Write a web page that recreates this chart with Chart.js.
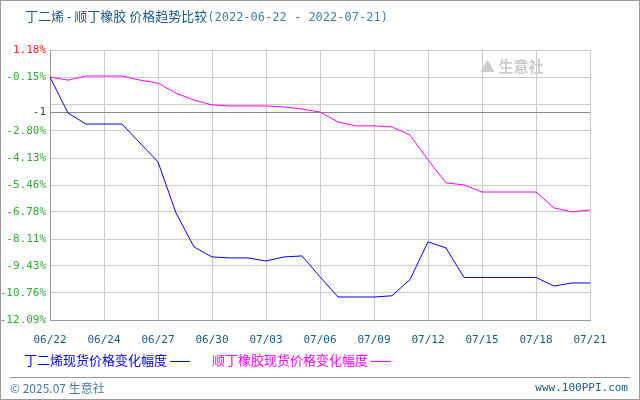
<!DOCTYPE html><html><head><meta charset="utf-8">
<script src="https://cdn.jsdelivr.net/npm/chart.js@4"></script>
<style>
body{margin:0;width:640px;height:400px;background:#fff;font-family:"Noto Sans CJK SC",sans-serif;position:relative;overflow:hidden}
#frame{position:absolute;left:0;top:0;width:638px;height:398px;border:1px solid #999}
#c{position:absolute;left:0;top:0}
.t{position:absolute;white-space:pre}
</style></head><body>
<div id="frame"></div>
<canvas id="c" width="640" height="400"></canvas>
<div class="t" style="left:25px;top:6px;font-size:13px;color:#1a5a8a">丁二烯 - 顺丁橡胶 价格趋势比较<span style="font-family:'DejaVu Sans Mono';font-size:12px;color:#4a7aa8">(2022-06-22 - 2022-07-21)</span></div>
<div class="t" style="left:480px;top:55px;font-size:15px;color:#ccc;font-weight:bold">▲ 生意社</div>
<div class="t" style="left:24px;top:350px;font-size:13px;color:#0000ff">丁二烯现货价格变化幅度 <span style="display:inline-block;width:20px;border-top:1px solid #00f;vertical-align:middle"></span></div>
<div class="t" style="left:212px;top:350px;font-size:13px;color:#ff00ff">顺丁橡胶现货价格变化幅度 <span style="display:inline-block;width:20px;border-top:1px solid #f0f;vertical-align:middle"></span></div>
<div style="position:absolute;left:10px;top:377px;width:620px;border-top:1px solid #999"></div>
<div class="t" style="left:10px;top:379px;font-size:12px;color:#4a7aa8">© 2025.07 生意社</div>
<div class="t" style="right:12px;top:381px;font-size:11px;color:#1a5a8a;font-family:'DejaVu Sans Mono'">www.100PPI.com</div>
<script>
const dates=["06/22","06/22","06/23","06/24","06/25","06/26","06/27","06/28","06/29","06/30","07/01","07/02","07/03","07/04","07/05","07/06","07/07","07/08","07/09","07/10","07/11","07/12","07/13","07/14","07/15","07/16","07/17","07/18","07/19","07/20","07/21"];
const butadiene=[-0.15,-1.92,-2.46,-2.46,-2.46,-3.39,-4.32,-6.83,-8.5,-8.99,-9.04,-9.04,-9.19,-8.99,-8.94,-9.97,-10.96,-10.96,-10.96,-10.9,-10.1,-8.25,-8.55,-10.0,-10.0,-10.0,-10.0,-10.0,-10.42,-10.27,-10.27];
const rubber=[-0.15,-0.3,-0.1,-0.1,-0.1,-0.3,-0.45,-0.94,-1.28,-1.52,-1.57,-1.57,-1.57,-1.62,-1.72,-1.87,-2.36,-2.55,-2.55,-2.6,-3.0,-4.22,-5.35,-5.45,-5.8,-5.8,-5.8,-5.8,-6.58,-6.78,-6.68];
const yTicks=[1.18,-0.15,-1.48,-1.87,-2.80,-4.13,-5.46,-6.78,-8.11,-9.43,-10.76,-12.09];
const yLabels=["1.18%","-0.15%","","-1","-2.80%","-4.13%","-5.46%","-6.78%","-8.11%","-9.43%","-10.76%","-12.09%"];
new Chart(document.getElementById('c'),{type:'line',
data:{labels:dates,datasets:[
{data:butadiene,borderColor:'#0000ff',borderWidth:1,pointRadius:0,tension:0},
{data:rubber,borderColor:'#ff00ff',borderWidth:1,pointRadius:0,tension:0}]},
options:{responsive:false,animation:false,events:[],
layout:{padding:{left:0,right:50,top:50,bottom:0}},
plugins:{legend:{display:false},tooltip:{enabled:false}},
scales:{
x:{offset:false,grid:{color:'#ccc',borderDash:[3,3],drawTicks:false},border:{color:'#999'},
 afterFit(s){s.height=80;},
 ticks:{autoSkip:false,maxRotation:0,padding:14,color:'#1a5a8a',font:{family:'DejaVu Sans Mono',size:11},
 callback:(v,i)=>i%3===0?dates[i]:null}},
y:{min:-12.09,max:1.18,afterFit(s){s.width=50;},
 afterBuildTicks(s){s.ticks=yTicks.map(v=>({value:v}));},
 border:{color:'#999'},
 grid:{drawTicks:false,color:c=>c.index===3?'#888':'#ccc',borderDash:c=>c.index===3?[]:[3,3],lineWidth:1},
 ticks:{padding:4,font:{family:'DejaVu Sans Mono',size:11},
 color:c=>c.index===0?'#ff2020':(c.index===3?'#444':'#33aa33'),
 callback:(v,i)=>yLabels[i]}}}}});
</script></body></html>
